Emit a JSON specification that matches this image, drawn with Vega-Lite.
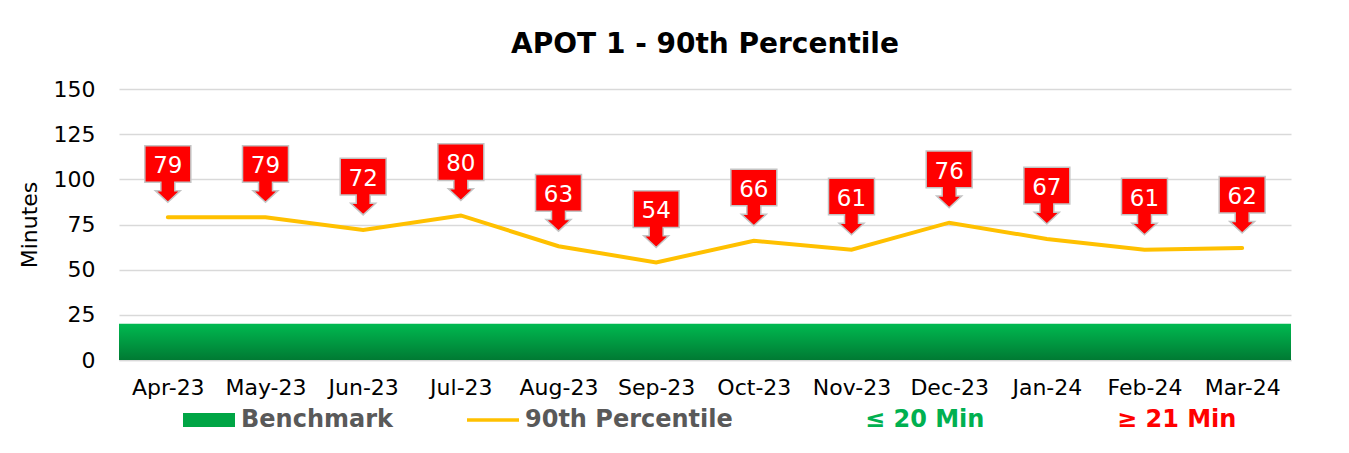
{
  "$schema": "https://vega.github.io/schema/vega-lite/v6.json",
  "autosize": "none",
  "width": 1172,
  "height": 271,
  "padding": {"left": 119, "top": 89, "right": 58, "bottom": 93},
  "background": "white",
  "title": {"text": "APOT 1 - 90th Percentile", "fontSize": 28, "font": "DejaVu Sans", "fontWeight": "bold", "color": "black", "anchor": "middle", "offset": 19},
  "config": {"view": {"stroke": null}, "font": "DejaVu Sans"},
  "datasets": {
    "months": [
      {"month": "Apr-23", "value": 79},
      {"month": "May-23", "value": 79},
      {"month": "Jun-23", "value": 72},
      {"month": "Jul-23", "value": 80},
      {"month": "Aug-23", "value": 63},
      {"month": "Sep-23", "value": 54},
      {"month": "Oct-23", "value": 66},
      {"month": "Nov-23", "value": 61},
      {"month": "Dec-23", "value": 76},
      {"month": "Jan-24", "value": 67},
      {"month": "Feb-24", "value": 61},
      {"month": "Mar-24", "value": 62}
    ],
    "bench": [{"benchmark": 20, "base": 0}],
    "legend": [
      {"s": "Benchmark"},
      {"s": "90th Percentile"},
      {"s": "≤ 20 Min"},
      {"s": "≥ 21 Min"}
    ]
  },
  "layer": [
    {
      "data": {"name": "bench"},
      "mark": {"type": "rect", "color": {"gradient": "linear", "x1": 0, "y1": 0, "x2": 0, "y2": 1, "stops": [{"offset": 0, "color": "#00B950"}, {"offset": 1, "color": "#007A33"}]}},
      "encoding": {
        "y": {"field": "benchmark", "type": "quantitative", "scale": {"domain": [0, 150], "nice": false}},
        "y2": {"field": "base"}
      }
    },
    {
      "data": {"name": "months"},
      "mark": {"type": "line", "color": "#FFC000", "strokeWidth": 4, "strokeCap": "round"},
      "encoding": {
        "x": {"field": "month", "type": "nominal", "sort": null, "scale": {"padding": 0.5},
          "axis": {"title": null, "labelAngle": 0, "ticks": false, "domainColor": "#d9d9d9", "domainWidth": 1.5, "labelFontSize": 22, "labelColor": "black", "labelPadding": 17, "grid": false}},
        "y": {"field": "value", "type": "quantitative", "scale": {"domain": [0, 150], "nice": false},
          "axis": {"title": "Minutes", "titleFontSize": 22, "titleFontWeight": "normal", "titleColor": "black", "values": [0, 25, 50, 75, 100, 125, 150], "labelFontSize": 22, "labelColor": "black", "labelPadding": 24, "ticks": false, "domain": false, "gridColor": "#d9d9d9", "gridWidth": 1.5, "titlePadding": 12}}
      }
    },
    {
      "data": {"name": "months"},
      "mark": {"type": "point", "filled": true, "opacity": 1, "fill": "#FF0000", "stroke": "#C4C4C4", "strokeWidth": 1.5, "size": 3136,
        "shape": "M0,-0.536L0.446,-0.95L0.25,-0.95L0.25,-1.25L0.821,-1.25L0.821,-2.557L-0.821,-2.557L-0.821,-1.25L-0.25,-1.25L-0.25,-0.95L-0.446,-0.95Z"},
      "encoding": {
        "x": {"field": "month", "type": "nominal", "sort": null},
        "y": {"field": "value", "type": "quantitative"}
      }
    },
    {
      "data": {"name": "months"},
      "mark": {"type": "text", "color": "white", "fontSize": 23, "dy": -51, "baseline": "middle", "align": "center"},
      "encoding": {
        "x": {"field": "month", "type": "nominal", "sort": null},
        "y": {"field": "value", "type": "quantitative"},
        "text": {"field": "value", "type": "quantitative"}
      }
    },
    {
      "data": {"name": "legend"},
      "transform": [{"filter": "false"}],
      "mark": {"type": "point", "filled": true, "opacity": 1},
      "encoding": {
        "color": {"field": "s", "type": "nominal",
          "scale": {"domain": ["Benchmark", "90th Percentile", "≤ 20 Min", "≥ 21 Min"], "range": ["#00A545", "#FFC000", "#ffffff", "#ffffff"]},
          "legend": {"title": null, "orient": "none", "legendX": 64, "legendY": 305, "direction": "horizontal", "columns": 4,
            "symbolSize": 2704, "symbolStrokeWidth": 0, "symbolOpacity": 1, "labelOffset": 6, "columnPadding": 74,
            "labelFontSize": 24, "labelFontWeight": "bold", "labelFont": "DejaVu Sans", "labelLimit": 0,
            "labelColor": {"expr": "datum.label === '≤ 20 Min' ? '#00B050' : (datum.label === '≥ 21 Min' ? '#FF0000' : '#595959')"}}},
        "shape": {"field": "s", "type": "nominal",
          "scale": {"domain": ["Benchmark", "90th Percentile", "≤ 20 Min", "≥ 21 Min"],
            "range": ["M-1,-0.27L1,-0.27L1,0.27L-1,0.27Z", "M-1,-0.07L1,-0.07L1,0.07L-1,0.07Z", "M0,0", "M0,0"]}}
      }
    }
  ]
}
